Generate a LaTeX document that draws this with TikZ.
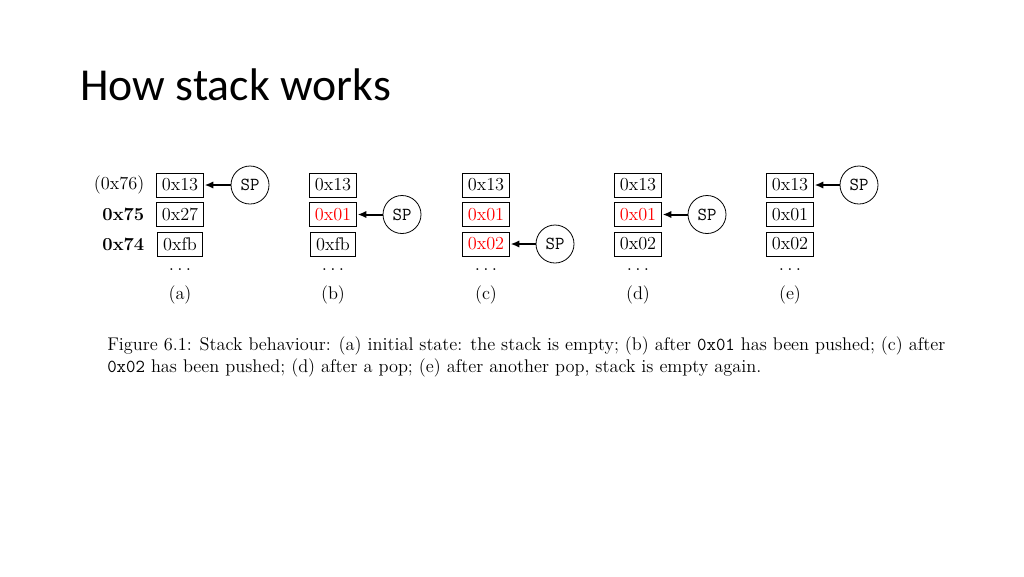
\documentclass[tikz,border=0pt]{standalone}
\usepackage{fontspec}
\newfontfamily\titlefont{Carlito}
\usetikzlibrary{arrows.meta}
\tikzset{
  cell/.style={draw, line width=0.6pt, inner xsep=4pt, minimum height=18pt, font=\fs},
  addr/.style={anchor=east, font=\fs},
  spnode/.style={draw, circle, line width=0.6pt, minimum size=28.5pt, inner sep=0pt, font=\fs\ttfamily},
  ptr/.style={-{Latex[length=6.5pt,width=5.5pt]}, line width=1.5pt, shorten >=0.5pt},
  dotsnode/.style={font=\fs, anchor=base},
  sublabel/.style={font=\fs},
}
\newcommand{\fs}{\fontsize{13.75}{16.5}\selectfont}
\begin{document}
\begin{tikzpicture}[x=0.75pt, y=-0.75pt]
\useasboundingbox (0,0) rectangle (1024,576);
\node[anchor=base west, inner sep=0pt, font=\titlefont\fontsize{34.3}{41}\selectfont] (title) at (80,100) {How stack works};

% addresses
\node[addr] (l1) at (149,185) {(0x76)};
\node[addr] (l2) at (149,214.5) {\textbf{0x75}};
\node[addr] (l3) at (149,244) {\textbf{0x74}};

% (a)
\node[cell] (a1) at (180,185) {0x13};
\node[cell] (a2) at (180,214.5) {0x27};
\node[cell] (a3) at (180,244) {0xfb};
\node[dotsnode] (ad) at (180,270) {$\dots$};
\node[sublabel] (al) at (180,295) {(a)};
\node[spnode] (asp) at (250,185) {SP};
\draw[ptr] (asp) -- (a1);

% (b)
\node[cell] (b1) at (333,185) {0x13};
\node[cell, text=red] (b2) at (333,214.5) {0x01};
\node[cell] (b3) at (333,244) {0xfb};
\node[dotsnode] (bd) at (333,270) {$\dots$};
\node[sublabel] (bl) at (333,295) {(b)};
\node[spnode] (bsp) at (402,214.5) {SP};
\draw[ptr] (bsp) -- (b2);

% (c)
\node[cell] (c1) at (486,185) {0x13};
\node[cell, text=red] (c2) at (486,214.5) {0x01};
\node[cell, text=red] (c3) at (486,244) {0x02};
\node[dotsnode] (cd) at (486,270) {$\dots$};
\node[sublabel] (cl) at (486,295) {(c)};
\node[spnode] (csp) at (555,244) {SP};
\draw[ptr] (csp) -- (c3);

% (d)
\node[cell] (d1) at (638,185) {0x13};
\node[cell, text=red] (d2) at (638,214.5) {0x01};
\node[cell] (d3) at (638,244) {0x02};
\node[dotsnode] (dd) at (638,270) {$\dots$};
\node[sublabel] (dl) at (638,295) {(d)};
\node[spnode] (dsp) at (707,214.5) {SP};
\draw[ptr] (dsp) -- (d2);

% (e)
\node[cell] (e1) at (790,185) {0x13};
\node[cell] (e2) at (790,214.5) {0x01};
\node[cell] (e3) at (790,244) {0x02};
\node[dotsnode] (ed) at (790,270) {$\dots$};
\node[sublabel] (el) at (790,295) {(e)};
\node[spnode] (esp) at (859,185) {SP};
\draw[ptr] (esp) -- (e1);

% caption
\node[anchor=base west, inner sep=0pt, text width=628.5pt, align=justify, font=\fs] (cap) at (107,350)
{Figure 6.1: Stack behaviour: (a) initial state: the stack is empty; (b) after \texttt{0x01} has been pushed; (c) after\linebreak
\texttt{0x02} has been pushed; (d) after a pop; (e) after another pop, stack is empty again.};
\end{tikzpicture}
\end{document}
